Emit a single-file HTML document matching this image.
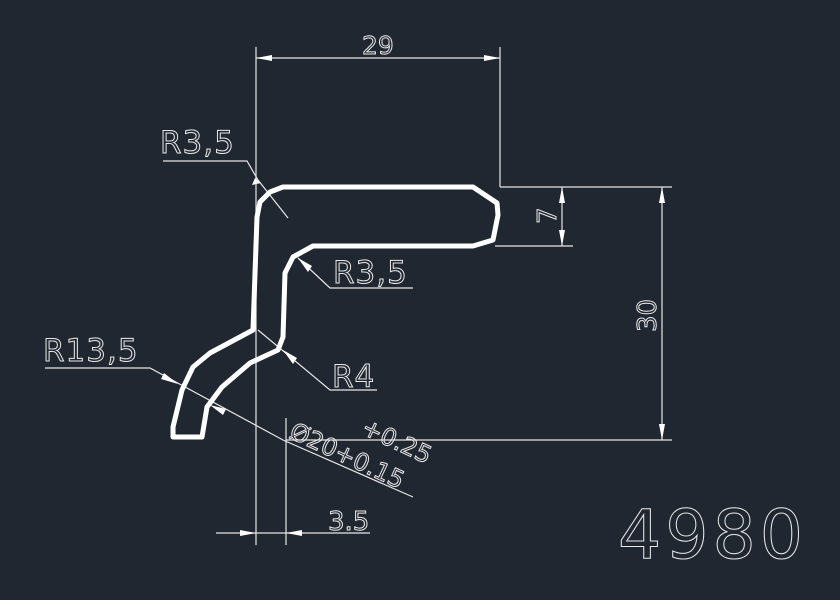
<!DOCTYPE html>
<html><head><style>
html,body{margin:0;padding:0;background:#212730;}
svg{display:block;}
text{font-family:"DejaVu Sans","Liberation Sans",sans-serif;fill:none;stroke:#e8e8e8;stroke-width:1;}
</style></head><body>
<svg width="840" height="600" viewBox="0 0 840 600" xmlns="http://www.w3.org/2000/svg">
<rect width="840" height="600" fill="#212730"/>
<g stroke="#e6e6e6" stroke-width="1.2" fill="none">
<line x1="256" y1="47" x2="256" y2="545"/>
<line x1="500" y1="47" x2="500" y2="187"/>
<line x1="256" y1="58" x2="500" y2="58"/>
<line x1="500" y1="187" x2="672" y2="187"/>
<line x1="495" y1="246" x2="573" y2="246"/>
<line x1="286" y1="440" x2="672" y2="440"/>
<line x1="562" y1="187" x2="562" y2="246"/>
<line x1="662" y1="187" x2="662" y2="440"/>
<polyline points="163,161 247,161 258,180 288,218"/>
<polyline points="298,258 330,288 413,288"/>
<polyline points="258,330 330,390 377,390"/>
<polyline points="45,368 150,368 283,440 413,497"/>
<line x1="286" y1="418" x2="286" y2="545"/>
<line x1="216" y1="533" x2="370" y2="533"/>
</g>
<g fill="#ffffff">
<polygon points="256,58 272,55 272,61"/><polygon points="500,58 484,55 484,61"/>
<polygon points="562,187 559,203 565,203"/><polygon points="562,246 559,230 565,230"/>
<polygon points="662,187 659,203 665,203"/><polygon points="662,440 659,424 665,424"/>
<polygon points="256,533 240,530 240,536"/><polygon points="286,533 302,530 302,536"/>
<polygon points="261,183 255,178 252,185"/>
<polygon points="298,258 308,272 312,266"/>
<polygon points="283,350 293,364 297,358"/>
<polygon points="178,384 164,373 161,379"/>
<polygon points="210,405 226,409 223,415"/>
</g>
<path d="M283,187 L473,187 L497,203 L498,215 L493,240 L473,246 L313,246 L293,257 L285,273 L283,337 L278,350 L250,363 L222,387 L207,407 L202,437 L173,437 L173,427 L182,390 L193,367 L210,353 L253,330 L257,217 L260,202 L270,192 Z" fill="none" stroke="#ffffff" stroke-width="5" stroke-linejoin="round"/>
<g>
<text x="362" y="54" font-size="25">29</text>
<text x="160" y="153" font-size="31" letter-spacing="1">R3,5</text>
<text x="333" y="283" font-size="31" letter-spacing="1">R3,5</text>
<text x="332" y="387" font-size="31" letter-spacing="1">R4</text>
<text x="43" y="361" font-size="31" letter-spacing="1">R13,5</text>
<text x="328" y="530" font-size="26">3.5</text>
<text transform="translate(556,224) rotate(-90)" font-size="26">7</text>
<text transform="translate(656,332) rotate(-90)" font-size="26">30</text>
<text transform="translate(288,437) rotate(25)" font-size="24">Ø20+0.15</text>
<text transform="translate(360,433) rotate(25)" font-size="24">+0.25</text>
<text x="618" y="558" font-size="68" stroke-width="1.3" letter-spacing="4">4980</text>
</g>
</svg>
</body></html>
